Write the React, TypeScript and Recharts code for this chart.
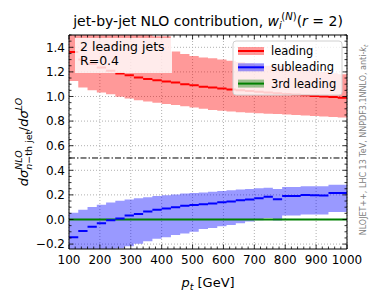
import React from 'react'
import { ComposedChart, Area, Line, XAxis, YAxis, CartesianGrid, ReferenceLine } from 'recharts'

// bin edges in GeV
const binEdges = [100, 130, 160, 190, 220, 250, 280, 310, 340, 370, 400, 430, 460, 490, 520, 550, 580, 610, 640, 670, 700, 730, 760, 790, 820, 850, 880, 910, 940, 970, 1000]

const leadingCentral = [1.362, 1.3, 1.265, 1.235, 1.21, 1.186, 1.173, 1.154, 1.143, 1.132, 1.122, 1.114, 1.1, 1.092, 1.08, 1.073, 1.065, 1.057, 1.05, 1.044, 1.038, 1.032, 1.027, 1.021, 1.016, 1.01, 1.005, 1.0, 0.995, 0.99]
const leadingLow = [1.127, 1.073, 1.051, 1.032, 1.019, 0.997, 0.984, 0.97, 0.96, 0.95, 0.938, 0.93, 0.92, 0.91, 0.9, 0.89, 0.885, 0.878, 0.872, 0.868, 0.864, 0.86, 0.857, 0.853, 0.849, 0.845, 0.841, 0.837, 0.833, 0.83]
const leadingHigh = [1.62, 1.6, 1.58, 1.56, 1.54, 1.52, 1.51, 1.5, 1.5, 1.49, 1.49, 1.365, 1.345, 1.33, 1.318, 1.31, 1.3, 1.29, 1.28, 1.27, 1.26, 1.25, 1.245, 1.235, 1.225, 1.215, 1.205, 1.2, 1.19, 1.18]

const subCentral = [-0.145, -0.094, -0.06, -0.03, -0.007, 0.008, 0.032, 0.045, 0.064, 0.079, 0.09, 0.099, 0.111, 0.117, 0.123, 0.129, 0.14, 0.146, 0.157, 0.162, 0.173, 0.184, 0.165, 0.19, 0.19, 0.2, 0.197, 0.196, 0.216, 0.216]
const subLow = [-0.33, -0.3, -0.28, -0.26, -0.245, -0.236, -0.217, -0.198, -0.176, -0.157, -0.144, -0.127, -0.114, -0.1, -0.078, -0.07, -0.055, -0.044, -0.03, -0.016, -0.006, 0.012, -0.008, 0.032, 0.032, 0.04, 0.04, 0.04, 0.06, 0.06]
const subHigh = [0.054, 0.08, 0.102, 0.12, 0.138, 0.152, 0.162, 0.172, 0.18, 0.19, 0.197, 0.204, 0.211, 0.216, 0.22, 0.225, 0.232, 0.238, 0.243, 0.248, 0.253, 0.258, 0.248, 0.265, 0.265, 0.27, 0.27, 0.27, 0.282, 0.282]

const thirdCentral = [0, 0, 0, 0, 0, 0, 0, 0, 0, 0, 0, 0, 0, 0, 0, 0, 0, 0, 0, 0, 0, 0, 0, 0, 0, 0, 0, 0, 0, 0]
const thirdLow = [-0.003, -0.003, -0.003, -0.003, -0.003, -0.003, -0.003, -0.003, -0.003, -0.003, -0.003, -0.003, -0.003, -0.003, -0.003, -0.003, -0.003, -0.003, -0.003, -0.003, -0.003, -0.003, -0.003, -0.003, -0.003, -0.003, -0.003, -0.003, -0.003, -0.003]
const thirdHigh = [0.003, 0.003, 0.003, 0.003, 0.003, 0.003, 0.003, 0.003, 0.003, 0.003, 0.003, 0.003, 0.003, 0.003, 0.003, 0.003, 0.003, 0.003, 0.003, 0.003, 0.003, 0.003, 0.003, 0.003, 0.003, 0.003, 0.003, 0.003, 0.003, 0.003]

const xMajor = [100, 200, 300, 400, 500, 600, 700, 800, 900, 1000]
const yMajor = [-0.2, 0, 0.2, 0.4, 0.6, 0.8, 1.0, 1.2, 1.4]
const Y_DOMAIN: [number, number] = [-0.24, 1.5]

// minor ticks: 5 per major step on x, 4 per major step on y
const xTicks: number[] = []
for (let v = 100; v <= 1000; v += 20) xTicks.push(v)
const yTicks: number[] = []
for (let k = -4; k <= 30; k++) yTicks.push(Math.round(k * 5) / 100)

const isXMajor = (v: number) => xMajor.includes(v)
const isYMajor = (v: number) => yMajor.some((m) => Math.abs(m - v) < 1e-6)

// each bin becomes two points plus a break row so the central values draw as flat segments
const rows: any[] = []
binEdges.slice(0, -1).forEach((lo, i) => {
  const hi = binEdges[i + 1]
  const band = {
    lead: [leadingLow[i], leadingHigh[i]],
    sub: [subLow[i], subHigh[i]],
    third: [thirdLow[i], thirdHigh[i]],
  }
  const mid = { lc: leadingCentral[i], sc: subCentral[i], tc: thirdCentral[i] }
  rows.push({ x: lo, ...band, ...mid })
  rows.push({ x: hi, ...band, ...mid })
  rows.push({ x: hi, ...band, lc: null, sc: null, tc: thirdCentral[i] })
})

const FONT = 'DejaVu Sans, sans-serif'
const fmtY = (v: number) => v.toFixed(1).replace('-', '\u2212')

const BottomTick = (p: any) => {
  const major = isXMajor(p.payload.value)
  return (
    <g>
      <line x1={p.x} x2={p.x} y1={p.y} y2={p.y - (major ? 4.5 : 2.5)} stroke="#000" strokeWidth={0.8} />
      {major && (
        <text x={p.x} y={p.y + 14.5} textAnchor="middle" fontSize={12} fontFamily={FONT} fill="#000">
          {p.payload.value}
        </text>
      )}
    </g>
  )
}
const TopTick = (p: any) => {
  const major = isXMajor(p.payload.value)
  return <line x1={p.x} x2={p.x} y1={p.y} y2={p.y + (major ? 4.5 : 2.5)} stroke="#000" strokeWidth={0.8} />
}
const LeftTick = (p: any) => {
  const major = isYMajor(p.payload.value)
  return (
    <g>
      <line x1={p.x} x2={p.x + (major ? 4.5 : 2.5)} y1={p.y} y2={p.y} stroke="#000" strokeWidth={0.8} />
      {major && (
        <text x={p.x - 4} y={p.y + 4.3} textAnchor="end" fontSize={12} fontFamily={FONT} fill="#000">
          {fmtY(p.payload.value)}
        </text>
      )}
    </g>
  )
}
const RightTick = (p: any) => {
  const major = isYMajor(p.payload.value)
  return <line x1={p.x} x2={p.x - (major ? 4.5 : 2.5)} y1={p.y} y2={p.y} stroke="#000" strokeWidth={0.8} />
}

const legendItems = [
  { name: 'leading', color: '#ff0000' },
  { name: 'subleading', color: '#0000ff' },
  { name: '3rd leading', color: '#008000' },
]

export default function App() {
  return (
    <div style={{ position: 'absolute', left: 0, top: 0, width: 374, height: 299, background: '#fff' }}>
      <ComposedChart
        width={374}
        height={299}
        data={rows}
        margin={{ top: 34, right: 26, bottom: 49, left: 25 }}
      >
        <CartesianGrid
          xAxisId="x"
          yAxisId="y"
          stroke="#b0b0b0"
          strokeDasharray="1 2"
          horizontalValues={yMajor}
          verticalValues={xMajor}
        />
        <XAxis
          xAxisId="x"
          dataKey="x"
          type="number"
          domain={[100, 1000]}
          allowDataOverflow
          ticks={xTicks}
          interval={0}
          height={1}
          tickSize={0}
          tickMargin={0}
          tickLine={false}
          tick={BottomTick}
          axisLine={{ stroke: '#000' }}
        />
        <XAxis
          xAxisId="top"
          orientation="top"
          dataKey="x"
          type="number"
          domain={[100, 1000]}
          allowDataOverflow
          ticks={xTicks}
          interval={0}
          height={1}
          tickSize={0}
          tickMargin={0}
          tickLine={false}
          tick={TopTick}
          axisLine={{ stroke: '#000' }}
        />
        <YAxis
          yAxisId="y"
          type="number"
          domain={Y_DOMAIN}
          allowDataOverflow
          ticks={yTicks}
          interval={0}
          width={44}
          tickSize={0}
          tickMargin={0}
          tickLine={false}
          tick={LeftTick}
          axisLine={{ stroke: '#000' }}
        />
        <YAxis
          yAxisId="right"
          orientation="right"
          type="number"
          domain={Y_DOMAIN}
          allowDataOverflow
          ticks={yTicks}
          interval={0}
          width={1}
          tickSize={0}
          tickMargin={0}
          tickLine={false}
          tick={RightTick}
          axisLine={{ stroke: '#000' }}
        />
        <ReferenceLine xAxisId="x" yAxisId="y" y={0.5} stroke="#000" strokeWidth={1} strokeDasharray="6 2 1.5 2" />
        <Area xAxisId="x" yAxisId="y" dataKey="lead" type="linear" fill="#ff0000" fillOpacity={0.4} stroke="none" isAnimationActive={false} />
        <Line xAxisId="x" yAxisId="y" dataKey="lc" type="linear" stroke="#ff0000" strokeWidth={2} dot={false} activeDot={false} connectNulls={false} isAnimationActive={false} />
        <Area xAxisId="x" yAxisId="y" dataKey="third" type="linear" fill="#008000" fillOpacity={0.4} stroke="none" isAnimationActive={false} />
        <Line xAxisId="x" yAxisId="y" dataKey="tc" type="linear" stroke="#008000" strokeWidth={2} dot={false} activeDot={false} connectNulls isAnimationActive={false} />
        <Area xAxisId="x" yAxisId="y" dataKey="sub" type="linear" fill="#0000ff" fillOpacity={0.4} stroke="none" isAnimationActive={false} />
        <Line xAxisId="x" yAxisId="y" dataKey="sc" type="linear" stroke="#0000ff" strokeWidth={2} dot={false} activeDot={false} connectNulls={false} isAnimationActive={false} />
      </ComposedChart>

      <svg
        width={374}
        height={299}
        style={{ position: 'absolute', left: 0, top: 0, pointerEvents: 'none' }}
        fontFamily={FONT}
      >
        {/* title */}
        <text x={208} y={26} textAnchor="middle" fontSize={14} fill="#000">
          <tspan>jet-by-jet NLO contribution, </tspan>
          <tspan fontStyle="italic">w</tspan>
          <tspan fontSize={10} fontStyle="italic" dy={3}>i</tspan>
          <tspan fontSize={10} dx={-0.5} dy={-9}>(</tspan>
          <tspan fontSize={10} fontStyle="italic">N</tspan>
          <tspan fontSize={10}>)</tspan>
          <tspan dy={6}>(</tspan>
          <tspan fontStyle="italic">r</tspan>
          <tspan> = 2)</tspan>
        </text>

        {/* y label */}
        <g transform="translate(28,142) rotate(-90)">
          <text x={0} y={0} textAnchor="middle" fontSize={13} fill="#000">
            <tspan fontStyle="italic">dσ</tspan>
            <tspan fontSize={9.5} dy={4}>
              <tspan fontStyle="italic">n</tspan>−th jet
            </tspan>
            <tspan fontSize={9.5} fontStyle="italic" dx={-39} dy={-10}>NLO</tspan>
            <tspan dx={19} dy={6}>/</tspan>
            <tspan fontStyle="italic">dσ</tspan>
            <tspan fontSize={9.5} fontStyle="italic" dy={-6}>LO</tspan>
          </text>
        </g>

        {/* x label */}
        <text x={208} y={287} textAnchor="middle" fontSize={13} fill="#000">
          <tspan fontStyle="italic">p</tspan>
          <tspan fontSize={9.5} fontStyle="italic" dy={3}>t</tspan>
          <tspan dy={-3}> [GeV]</tspan>
        </text>

        {/* side note */}
        <g transform="translate(366,140) rotate(-90)">
          <text x={0} y={0} textAnchor="middle" fontSize={8} fill="#808080">
            NLOJET++, LHC 13 TeV, NNPDF3.1NNLO, anti-<tspan fontStyle="italic">k</tspan>
            <tspan fontSize={6} fontStyle="italic" dy={2}>t</tspan>
          </text>
        </g>

        {/* info box */}
        <rect x={75} y={38} width={97} height={35} fill="#fff" fillOpacity={0.8} />
        <text x={80} y={51} fontSize={12.5} fill="#000">2 leading jets</text>
        <text x={80} y={65} fontSize={12.5} fill="#000">R=0.4</text>

        {/* legend */}
        <rect x={233} y={41} width={109} height={54} rx={3} fill="#fff" fillOpacity={0.8} stroke="#d0d0d0" strokeWidth={1} />
        {legendItems.map((it, i) => {
          const cy = 51 + i * 16.3
          return (
            <g key={it.name}>
              <rect x={238} y={cy - 4} width={26} height={8} fill={it.color} fillOpacity={0.4} />
              <line x1={238} x2={264} y1={cy} y2={cy} stroke={it.color} strokeWidth={2} />
              <text x={271} y={cy + 4} fontSize={11.5} fill="#000">{it.name}</text>
            </g>
          )
        })}
      </svg>
    </div>
  )
}
